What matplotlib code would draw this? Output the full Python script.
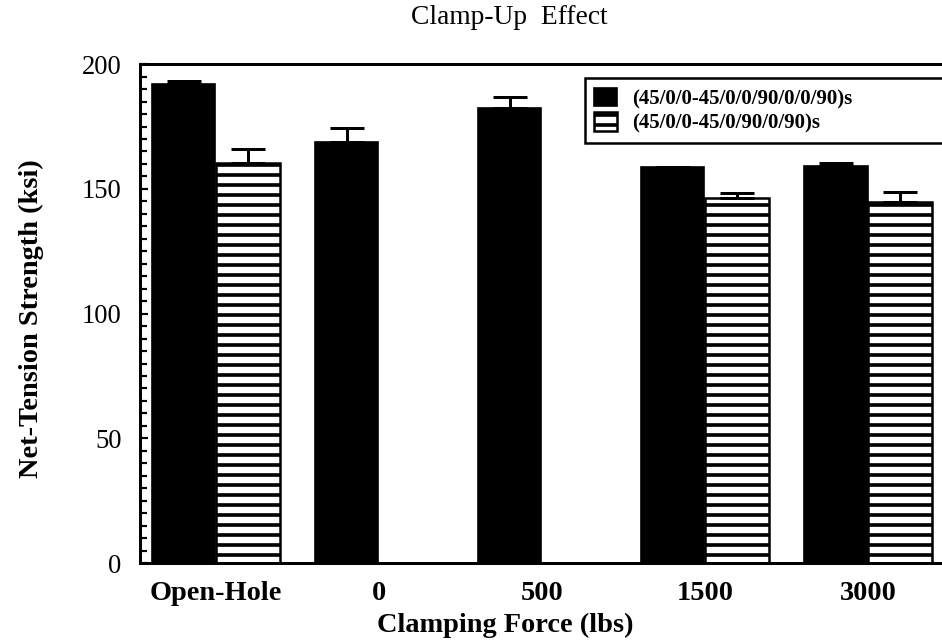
"""Clamp-up effect on net-tension strength, two laminate lay-ups.
Bar chart with upward-only error bars, hatched second series."""
import matplotlib
matplotlib.use("Agg")
import matplotlib.pyplot as plt
import numpy as np
from matplotlib.ticker import MultipleLocator

plt.rcParams["font.family"] = ["Liberation Serif", "DejaVu Serif"]
plt.rcParams["hatch.linewidth"] = 2.2

# data (ksi)
categories = ["Open-Hole", "0", "500", "1500", "3000"]
series_names = ["(45/0/0-45/0/0/90/0/0/90)s", "(45/0/0-45/0/90/0/90)s"]
strength_a = [192.0, 168.7, 182.3, 158.6, 159.0]
err_a = [1.2, 5.6, 4.4, 0.0, 1.3]
strength_b = [160.2, np.nan, np.nan, 146.2, 144.6]
err_b = [5.7, np.nan, np.nan, 2.0, 4.0]

fig = plt.figure(figsize=(7.85, 5.35), dpi=120)
ax = fig.add_axes([0.1486, 0.123, 0.8514, 0.777])

x = np.arange(len(categories))
w = 0.39
off = 0.198

ax.bar(x - off, strength_a, w, color="black", edgecolor="black",
       linewidth=1.0, label=series_names[0], zorder=2)
ax.bar(x + off, strength_b, w, color="white", edgecolor="black",
       linewidth=1.5, hatch="--", label=series_names[1], zorder=2)

lo_a = np.zeros(len(x))
ax.errorbar(x - off, strength_a, yerr=[lo_a, err_a], fmt="none",
            ecolor="black", elinewidth=1.8, capsize=10, capthick=1.8, zorder=3)
ax.errorbar(x + off, strength_b, yerr=[lo_a, err_b], fmt="none",
            ecolor="black", elinewidth=1.8, capsize=10, capthick=1.8, zorder=3)

ax.set_xlim(-0.466, 4.454)
ax.set_ylim(0, 200)
ax.yaxis.set_major_locator(MultipleLocator(50))
ax.yaxis.set_minor_locator(MultipleLocator(5))
ax.tick_params(axis="y", which="both", direction="in", width=1.3,
               labelsize=16, pad=11)
ax.tick_params(axis="y", which="major", length=5)
ax.tick_params(axis="y", which="minor", length=4)
ax.set_xticks(x)
ax.set_xticklabels(categories, fontweight="bold", fontsize=17)
ax.tick_params(axis="x", length=0, pad=11)

for side in ["left", "bottom", "top"]:
    ax.spines[side].set_linewidth(1.8)
ax.spines["right"].set_visible(False)

ax.set_xlabel("Clamping Force (lbs)", fontweight="bold", fontsize=17)
ax.xaxis.set_label_coords(0.455, -0.1)
ax.set_ylabel("Net-Tension Strength (ksi)", fontweight="bold", fontsize=17)
ax.yaxis.set_label_coords(-0.12, 0.49)

fig.text(0.541, 0.972, "Clamp-Up  Effect", ha="center", va="center", fontsize=16.5)

leg = ax.legend(loc="upper left", bbox_to_anchor=(0.555, 0.972, 0.47, 0.0),
                mode="expand", borderaxespad=0, fancybox=False, framealpha=1,
                edgecolor="black", prop={"weight": "bold", "size": 12.5},
                handlelength=1.1, handleheight=1.0, handletextpad=0.7,
                borderpad=0.45, labelspacing=0.15)
leg.get_frame().set_linewidth(1.5)

fig.savefig("out.png", dpi=120)
